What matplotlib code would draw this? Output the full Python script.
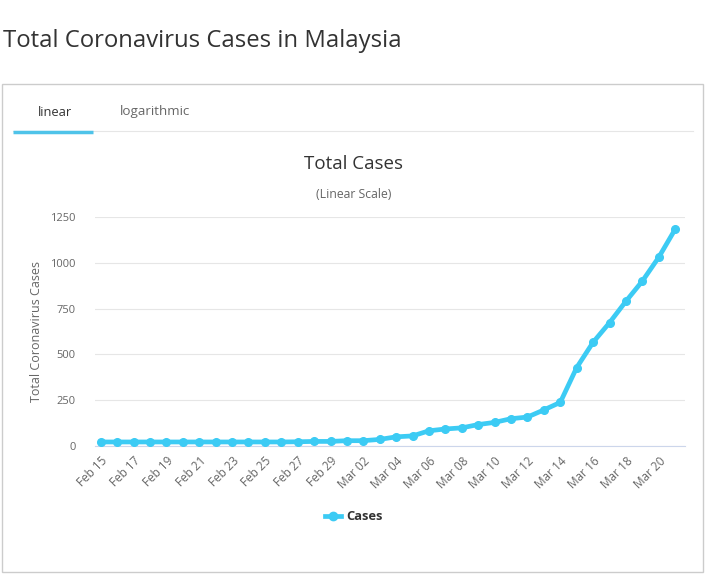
import matplotlib
matplotlib.use('Agg')
import matplotlib.pyplot as plt
from matplotlib.patches import Rectangle
from matplotlib.lines import Line2D

plt.rcParams['font.family'] = ['Open Sans', 'DejaVu Sans']

# Data
dates = ['Feb 15', 'Feb 16', 'Feb 17', 'Feb 18', 'Feb 19', 'Feb 20', 'Feb 21', 'Feb 22',
         'Feb 23', 'Feb 24', 'Feb 25', 'Feb 26', 'Feb 27', 'Feb 28', 'Feb 29',
         'Mar 01', 'Mar 02', 'Mar 03', 'Mar 04', 'Mar 05', 'Mar 06', 'Mar 07', 'Mar 08',
         'Mar 09', 'Mar 10', 'Mar 11', 'Mar 12', 'Mar 13', 'Mar 14', 'Mar 15', 'Mar 16',
         'Mar 17', 'Mar 18', 'Mar 19', 'Mar 20', 'Mar 21']
cases = [22, 22, 22, 22, 22, 22, 22, 22, 22, 22, 22, 22, 23, 25, 25,
         29, 29, 36, 50, 55, 83, 93, 99, 117, 129, 149, 158, 197, 238,
         428, 566, 673, 790, 900, 1030, 1183]
y_ticks = [0, 250, 500, 750, 1000, 1250]

W, H = 705, 574
fig = plt.figure(figsize=(W / 100, H / 100), dpi=100)
fig.patch.set_facecolor('white')

def fx(px):
    return px / W

def fy(py):
    return 1 - py / H

# page title
fig.text(fx(3), fy(41), 'Total Coronavirus Cases in Malaysia', fontsize=17.2,
         color='#333333', va='center', ha='left')

# outer panel border
fig.patches.append(Rectangle((fx(2), fy(572)), fx(701), (570 - 82) / H,
                             transform=fig.transFigure, fill=False,
                             edgecolor='#cccccc', linewidth=1))

# tabs
fig.lines.append(Line2D([fx(13), fx(693)], [fy(131), fy(131)], transform=fig.transFigure,
                        color='#e6e6e6', linewidth=0.8))
fig.lines.append(Line2D([fx(13), fx(93)], [fy(132), fy(132)], transform=fig.transFigure,
                        color='#4fc3e9', linewidth=2.5, solid_capstyle='butt'))
fig.text(fx(55), fy(112), 'linear', fontsize=9.3, color='#333333', ha='center', va='center')
fig.text(fx(155), fy(112), 'logarithmic', fontsize=9.6, color='#666666', ha='center', va='center')

# chart titles
fig.text(fx(354), fy(164), 'Total Cases', fontsize=13.5, color='#333333', ha='center', va='center')
fig.text(fx(354), fy(195), '(Linear Scale)', fontsize=8.8, color='#666666', ha='center', va='center')

ax = fig.add_axes([fx(95), fy(446), fx(685) - fx(95), (446 - 217) / H])
x = list(range(len(dates)))
ax.plot(x, cases, color='#3ccbf4', linewidth=3.4, marker='o', markersize=5.5,
        solid_joinstyle='round', zorder=3, label='Cases')

ax.set_ylim(0, 1250)
ax.set_xlim(-0.35, len(dates) - 1 + 0.6)
ax.set_yticks(y_ticks)
ax.set_yticklabels([str(v) for v in y_ticks])
ax.set_xticks(x[::2])
ax.set_xticklabels(dates[::2], rotation=45, ha='right', rotation_mode='anchor')
ax.tick_params(axis='both', length=0, labelsize=8, labelcolor='#666666')
ax.tick_params(axis='x', pad=6, labelsize=8.5)
ax.tick_params(axis='y', pad=14)
ax.grid(axis='y', color='#e6e6e6', linewidth=0.8)
ax.set_axisbelow(True)
for s in ['top', 'right', 'left']:
    ax.spines[s].set_visible(False)
ax.spines['bottom'].set_color('#ccd6eb')
ax.set_ylabel('Total Coronavirus Cases', fontsize=9, color='#666666', labelpad=5)

leg = fig.legend(handles=[Line2D([], [], color='#3ccbf4', linewidth=3.4, marker='o', markersize=6)],
                 labels=['Cases'], loc='center', bbox_to_anchor=(fx(354), fy(517)),
                 frameon=False, handlelength=1.2, handletextpad=0.4,
                 prop={'size': 9.3, 'weight': 'bold'})
for t in leg.get_texts():
    t.set_color('#333333')

fig.savefig('out.png', dpi=100, facecolor='white')
